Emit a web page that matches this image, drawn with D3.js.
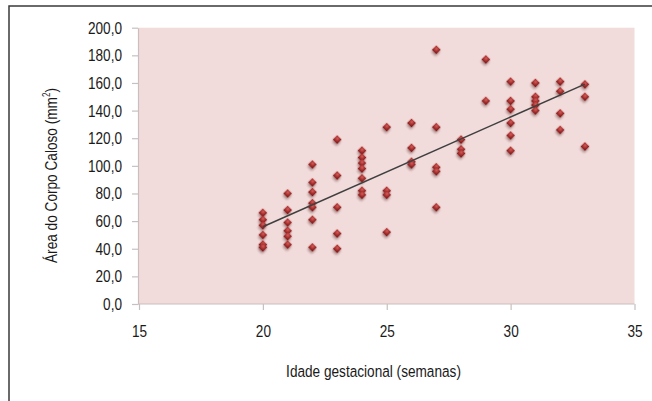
<!DOCTYPE html>
<html>
<head>
<meta charset="utf-8">
<script src="https://cdn.jsdelivr.net/npm/d3@7"></script>
<style>
  html, body { margin: 0; padding: 0; background: #ffffff; }
  svg { display: block; }
  text { font-family: "Liberation Sans", Arial, sans-serif; fill: #1a1a1a; }
</style>
</head>
<body>
<svg id="chart" width="652" height="401"></svg>
<script>
// ---- data ----
const gestWeeks = [
  20, 20, 20, 20, 20, 20,
  21, 21, 21, 21, 21, 21,
  22, 22, 22, 22, 22, 22, 22,
  23, 23, 23, 23, 23,
  24, 24, 24, 24, 24, 24, 24,
  25, 25, 25, 25,
  26, 26, 26, 26,
  27, 27, 27, 27, 27,
  28, 28, 28,
  29, 29,
  30, 30, 30, 30, 30, 30,
  31, 31, 31, 31, 31,
  32, 32, 32, 32,
  33, 33, 33
];
const callosumArea = [
  66, 61, 57, 50, 43, 41,
  80, 68, 59, 53, 49, 43,
  101, 88, 81, 73, 70, 61, 41,
  119, 93, 70, 51, 40,
  111, 106, 102, 98, 91, 82, 79,
  128, 82, 79, 52,
  131, 113, 103, 101,
  184, 128, 99, 96, 70,
  119, 112, 109,
  177, 147,
  161, 147, 141, 131, 122, 111,
  160, 150, 147, 144, 140,
  161, 154, 138, 126,
  159, 150, 114
];
const xTickValues = [15, 20, 25, 30, 35];
const yTickValues = [0, 20, 40, 60, 80, 100, 120, 140, 160, 180, 200];
const xTitle = "Idade gestacional (semanas)";
const yTitle = "Área do Corpo Caloso (mm";

// ---- layout ----
const svg = d3.select("#chart");
const plot = { left: 138, right: 634.5, top: 27.7, bottom: 304 };
const SX = 0.8; // horizontal squeeze to imitate the condensed typeface

const x = d3.scaleLinear().domain([15, 35]).range([plot.left + 1, plot.right]);
const y = d3.scaleLinear().domain([0, 200]).range([plot.bottom, plot.top]);

const locale = d3.formatLocale({ decimal: ",", thousands: ".", grouping: [3], currency: ["", ""] });
const fmtY = locale.format(".1f");

// outer frame (cut off at right / bottom like the reference)
svg.append("rect")
  .attr("x", 9).attr("y", 6).attr("width", 700).attr("height", 450)
  .attr("fill", "none").attr("stroke", "#3a3a3a").attr("stroke-width", 1.5);

// defs
const defs = svg.append("defs");
const grad = defs.append("radialGradient").attr("id", "mk")
  .attr("cx", "40%").attr("cy", "35%").attr("r", "70%");
grad.append("stop").attr("offset", "0%").attr("stop-color", "#d4605c");
grad.append("stop").attr("offset", "55%").attr("stop-color", "#a8302f");
grad.append("stop").attr("offset", "100%").attr("stop-color", "#7e1c1e");
const sh = defs.append("filter").attr("id", "shadow")
  .attr("x", "-60%").attr("y", "-60%").attr("width", "220%").attr("height", "220%");
sh.append("feDropShadow").attr("dx", 1).attr("dy", 2).attr("stdDeviation", 1.2)
  .attr("flood-color", "#5a3030").attr("flood-opacity", 0.45);

// plot background
svg.append("rect")
  .attr("x", plot.left).attr("y", plot.top)
  .attr("width", plot.right - plot.left).attr("height", plot.bottom - plot.top)
  .attr("fill", "#f2dcdb");

// axes
const axisColor = "#c8c0c0";
const gx = svg.append("g").attr("transform", `translate(0,${plot.bottom})`)
  .call(d3.axisBottom(x).tickValues(xTickValues).tickFormat(d3.format("d")).tickSize(6).tickPadding(15).tickSizeOuter(0));
const gy = svg.append("g").attr("transform", `translate(${plot.left},0)`)
  .call(d3.axisLeft(y).tickValues(yTickValues).tickFormat(fmtY).tickSize(6).tickPadding(10).tickSizeOuter(0));
[gx, gy].forEach(g => {
  g.select(".domain").attr("stroke", axisColor).attr("stroke-width", 1.2);
  g.selectAll(".tick line").attr("stroke", axisColor).attr("stroke-width", 1.2);
  g.selectAll(".tick text").attr("font-size", 17).attr("fill", "#1a1a1a")
    .style("font-family", '"Liberation Sans", Arial, sans-serif')
    .each(function () {
      const t = d3.select(this);
      const xv = +t.attr("x") || 0;
      t.attr("x", xv / SX).attr("transform", `scale(${SX},1)`);
    });
});
gx.select(".domain").attr("d", `M${plot.left},0H${plot.right}`);

// trend line (least squares fit of the points)
const mx = d3.mean(gestWeeks), my = d3.mean(callosumArea);
let sxy = 0, sxx = 0;
gestWeeks.forEach((w, i) => { sxy += (w - mx) * (callosumArea[i] - my); sxx += (w - mx) * (w - mx); });
const slope = sxy / sxx, icpt = my - slope * mx;
const xr = d3.extent(gestWeeks);

// points
svg.append("g").selectAll("path")
  .data(gestWeeks.map((w, i) => [w, callosumArea[i]]))
  .join("path")
  .attr("d", d3.symbol(d3.symbolSquare, 40)())
  .attr("transform", d => `translate(${x(d[0])},${y(d[1])}) rotate(45)`)
  .attr("fill", "url(#mk)")
  .attr("filter", "url(#shadow)");

svg.append("line")
  .attr("x1", x(xr[0])).attr("y1", y(icpt + slope * xr[0]))
  .attr("x2", x(xr[1])).attr("y2", y(icpt + slope * xr[1]))
  .attr("stroke", "#404040").attr("stroke-width", 1.5);

// titles
function fitTitle(g, target) {
  const w = g.select("text").node().getBBox().width;
  return target / w;
}
const gxt = svg.append("g");
gxt.append("text").attr("x", 0).attr("y", 0)
  .attr("text-anchor", "middle").attr("font-size", 17).text(xTitle);
const sxT = fitTitle(gxt, 175);
gxt.attr("transform", `translate(373.5,377) scale(${sxT},1)`);

const gyt = svg.append("g");
const yt = gyt.append("text").attr("x", 0).attr("y", 0)
  .attr("text-anchor", "middle").attr("font-size", 17);
yt.append("tspan").text(yTitle);
yt.append("tspan").attr("font-size", 10).attr("dy", -7).text("2");
yt.append("tspan").attr("dy", 7).text(")");
const syT = fitTitle(gyt, 175);
gyt.attr("transform", `translate(57,175.5) rotate(-90) scale(${syT},1)`);
</script>
</body>
</html>
